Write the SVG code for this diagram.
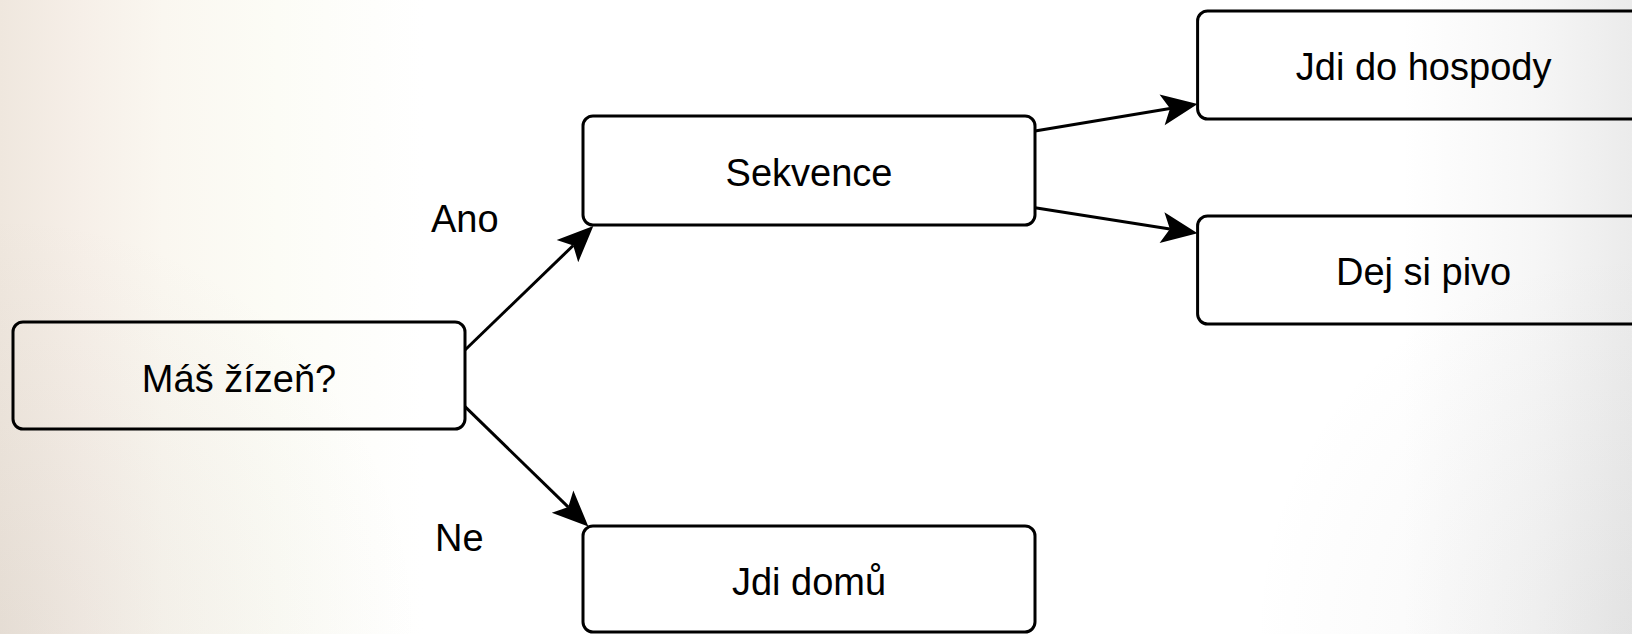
<svg xmlns="http://www.w3.org/2000/svg" width="1632" height="634" viewBox="0 0 1632 634">
  <style>
    .box { fill: none; stroke: #000; stroke-width: 3; }
    .lbl { font-family: "Liberation Sans", Arial, sans-serif; font-size: 38px; fill: #000; }
    .mid { text-anchor: middle; }
    .edge { fill: none; stroke: #000; stroke-width: 3; marker-end: url(#arrow); }
  </style>
  <defs>
    <linearGradient id="bg" x1="0" y1="0" x2="1" y2="0">
      <stop offset="0" stop-color="#efe7de"/>
      <stop offset="0.05" stop-color="#f6efe8"/>
      <stop offset="0.1" stop-color="#faf7f0"/>
      <stop offset="0.17" stop-color="#fcfcf6"/>
      <stop offset="0.26" stop-color="#ffffff"/>
      <stop offset="0.86" stop-color="#ffffff"/>
      <stop offset="0.94" stop-color="#f6f6f6"/>
      <stop offset="1" stop-color="#ebebeb"/>
    </linearGradient>
    <radialGradient id="shadeL" cx="0" cy="634" r="420" gradientUnits="userSpaceOnUse">
      <stop offset="0" stop-color="#8a8078" stop-opacity="0.1"/>
      <stop offset="1" stop-color="#8a8078" stop-opacity="0"/>
    </radialGradient>
    <radialGradient id="shadeR" cx="1632" cy="634" r="380" gradientUnits="userSpaceOnUse">
      <stop offset="0" stop-color="#808080" stop-opacity="0.08"/>
      <stop offset="1" stop-color="#808080" stop-opacity="0"/>
    </radialGradient>
    <marker id="arrow" markerUnits="userSpaceOnUse" viewBox="-10 -17 40 34" refX="0" refY="0" markerWidth="40" markerHeight="34" orient="auto" overflow="visible">
      <path d="M28,0 L-8,-15.5 L0,0 L-8,15.5 Z" fill="#000"/>
    </marker>
  </defs>
  <rect x="0" y="0" width="1632" height="634" fill="url(#bg)"/>
  <rect x="0" y="0" width="1632" height="634" fill="url(#shadeL)"/>
  <rect x="0" y="0" width="1632" height="634" fill="url(#shadeR)"/>

  <g id="connectors">
    <line class="edge" x1="465" y1="350" x2="573.2" y2="245.5"/>
    <line class="edge" x1="465" y1="406.7" x2="568.3" y2="507.1"/>
    <line class="edge" x1="1035" y1="131" x2="1170" y2="108.6"/>
    <line class="edge" x1="1035" y1="207.7" x2="1169.9" y2="228.9"/>
    <text class="lbl" x="431" y="231.5">Ano</text>
    <text class="lbl" x="435" y="551">Ne</text>
  </g>

  <g id="node-mas-zizen">
    <rect class="box" x="13" y="322" width="452" height="107" rx="10"/>
    <text class="lbl mid" x="239" y="391.5">Máš žízeň?</text>
  </g>
  <g id="node-sekvence">
    <rect class="box" x="583" y="116" width="452" height="109" rx="10"/>
    <text class="lbl mid" x="809" y="186">Sekvence</text>
  </g>
  <g id="node-jdi-do-hospody">
    <rect class="box" x="1197.6" y="11" width="452" height="108" rx="10"/>
    <text class="lbl mid" x="1423.6" y="80">Jdi do hospody</text>
  </g>
  <g id="node-dej-si-pivo">
    <rect class="box" x="1197.6" y="216" width="452" height="108" rx="10"/>
    <text class="lbl mid" x="1423.6" y="285">Dej si pivo</text>
  </g>
  <g id="node-jdi-domu">
    <rect class="box" x="583" y="526" width="452" height="106" rx="10"/>
    <text class="lbl mid" x="809" y="595">Jdi domů</text>
  </g>
</svg>
